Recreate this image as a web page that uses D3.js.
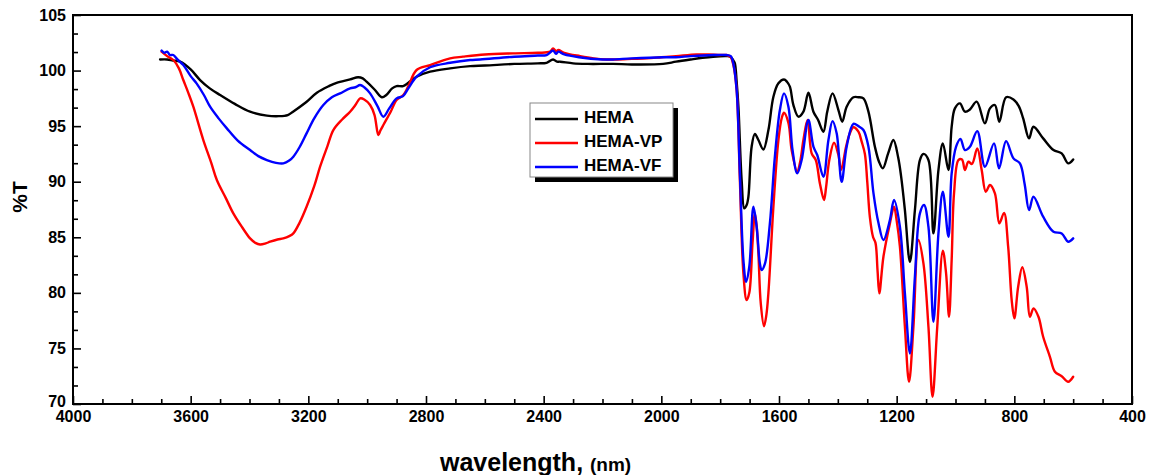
<!DOCTYPE html>
<html>
<head>
<meta charset="utf-8">
<script src="https://cdn.jsdelivr.net/npm/d3@7/dist/d3.min.js"></script>
<style>
  html, body { margin: 0; padding: 0; background: #fff; }
  svg { display: block; }
  text { font-family: "Liberation Sans", Arial, Helvetica, sans-serif; font-weight: bold; fill: #000; }
</style>
</head>
<body>
<svg id="chart" width="1149" height="475"></svg>
<script>
// FTIR spectra: [wavenumber, %T]
const hema = [
  [3704,101.0],[3680,101.0],[3660,100.9],[3636,100.8],[3600,100.1],[3568,99.15],[3535,98.4],
  [3500,97.8],[3450,97.0],[3398,96.3],[3341,95.95],[3300,95.9],[3270,96.0],[3252,96.3],
  [3210,97.1],[3171,98.0],[3130,98.6],[3104,98.9],[3058,99.2],[3031,99.4],[3015,99.3],
  [3002,99.0],[2975,98.3],[2950,97.6],[2935,97.8],[2915,98.4],[2900,98.6],[2878,98.6],
  [2860,98.9],[2832,99.45],[2786,99.9],[2718,100.2],[2650,100.4],[2600,100.45],[2500,100.6],
  [2420,100.65],[2390,100.7],[2368,101.0],[2355,100.8],[2344,100.8],[2300,100.65],[2250,100.6],
  [2164,100.6],[2100,100.55],[1994,100.6],[1950,100.8],[1900,101.0],[1860,101.15],[1824,101.25],
  [1778,101.3],[1765,101.25],[1755,100.9],[1750,100.65],[1744,99.0],[1738,96.75],[1727,90.15],
  [1718,87.6],[1710,87.9],[1704,88.65],[1693,93.15],[1682,94.3],[1670,93.75],[1653,92.9],
  [1636,94.65],[1619,97.65],[1602,98.85],[1583,99.2],[1573,99.0],[1563,98.55],[1551,96.9],
  [1534,95.85],[1517,96.3],[1500,98.0],[1483,96.3],[1467,95.55],[1449,94.5],[1436,96.3],
  [1418,97.95],[1398,96.45],[1385,95.4],[1370,96.75],[1347,97.6],[1330,97.6],[1313,97.5],
  [1296,96.3],[1274,93.15],[1260,91.8],[1247,91.2],[1229,92.55],[1211,93.75],[1195,92.2],
  [1185,90.5],[1172,87.45],[1155,82.8],[1138,87.45],[1121,91.95],[1109,92.5],[1092,91.95],
  [1075,85.35],[1058,91.05],[1043,93.45],[1024,91.05],[1013,94.95],[1002,96.6],[985,97.05],
  [968,96.3],[951,96.5],[928,97.2],[900,95.25],[883,96.6],[866,96.9],[851,95.4],[828,97.6],
  [803,97.4],[785,96.8],[770,95.7],[750,93.9],[735,94.95],[702,93.9],[667,92.85],[639,92.55],
  [617,91.65],[600,92.0]
];

const hemaVP = [
  [3699,101.7],[3680,101.3],[3659,100.95],[3640,100.2],[3625,99.15],[3608,98.0],[3591,96.75],
  [3557,93.75],[3530,91.7],[3511,90.15],[3480,88.5],[3455,87.15],[3425,85.9],[3398,84.9],
  [3380,84.5],[3364,84.35],[3345,84.45],[3330,84.6],[3305,84.8],[3285,84.9],[3265,85.1],
  [3251,85.35],[3230,86.3],[3206,87.75],[3180,89.6],[3160,91.35],[3135,93.2],[3115,94.65],
  [3085,95.6],[3058,96.3],[3040,96.9],[3024,97.5],[3010,97.4],[2990,96.9],[2975,96.0],
  [2962,94.2],[2955,94.6],[2945,95.1],[2920,96.3],[2900,97.35],[2877,97.8],[2860,98.6],
  [2832,100.05],[2786,100.5],[2718,101.1],[2674,101.25],[2600,101.45],[2504,101.55],[2420,101.6],
  [2378,101.7],[2368,102.0],[2358,101.75],[2350,101.85],[2330,101.6],[2276,101.3],[2230,101.1],
  [2186,101.0],[2150,101.0],[2100,101.05],[2050,101.1],[2000,101.2],[1950,101.3],[1880,101.45],
  [1840,101.45],[1800,101.4],[1778,101.4],[1764,101.2],[1755,100.5],[1744,98.25],[1733,90.15],
  [1721,81.75],[1710,79.35],[1701,80.0],[1690,84.5],[1682,87.15],[1676,86.0],[1670,83.55],
  [1662,79.05],[1651,77.0],[1643,78.0],[1636,80.0],[1619,87.75],[1602,93.75],[1590,95.8],
  [1583,96.2],[1568,95.3],[1557,92.85],[1538,90.9],[1528,91.8],[1517,93.75],[1503,95.55],
  [1489,92.55],[1475,91.95],[1461,89.85],[1447,88.35],[1440,89.5],[1429,91.95],[1413,93.5],
  [1398,92.4],[1389,91.05],[1372,93.15],[1360,94.3],[1347,94.9],[1330,94.5],[1319,93.6],
  [1308,92.5],[1300,90.0],[1291,86.8],[1280,85.0],[1272,84.5],[1265,82.0],[1259,79.95],
  [1245,83.25],[1223,86.25],[1209,87.75],[1200,86.5],[1189,84.15],[1172,76.95],[1158,72.0],
  [1143,76.95],[1126,84.75],[1109,82.65],[1092,76.95],[1078,70.65],[1062,76.95],[1043,83.8],
  [1032,81.75],[1022,77.85],[1013,83.0],[1005,88.95],[990,91.95],[978,92.0],[968,91.05],
  [956,91.8],[944,91.6],[926,93.0],[911,91.05],[897,89.1],[883,89.7],[866,88.95],[851,86.25],
  [835,87.2],[821,84.15],[809,79.35],[800,77.7],[787,80.55],[773,82.3],[758,80.55],[747,77.85],
  [735,78.6],[718,77.85],[702,76.05],[679,74.25],[662,72.9],[639,72.5],[617,72.0],[600,72.45]
];

const hemaVF = [
  [3699,101.8],[3690,101.6],[3680,101.7],[3670,101.4],[3659,101.4],[3645,101.0],[3625,100.5],
  [3600,99.5],[3580,98.85],[3555,97.8],[3534,96.75],[3505,95.7],[3477,94.8],[3440,93.7],
  [3398,92.85],[3370,92.3],[3341,91.95],[3310,91.7],[3285,91.65],[3265,91.9],[3251,92.25],
  [3230,93.1],[3206,94.35],[3180,95.7],[3149,96.9],[3120,97.6],[3092,97.95],[3058,98.4],
  [3040,98.5],[3024,98.7],[3010,98.5],[2990,97.95],[2965,96.8],[2945,95.85],[2925,96.6],
  [2900,97.5],[2878,97.7],[2860,98.4],[2832,99.45],[2786,100.3],[2718,100.7],[2650,100.95],
  [2616,101.0],[2500,101.25],[2420,101.35],[2390,101.4],[2368,101.8],[2358,101.5],[2350,101.7],
  [2330,101.45],[2280,101.2],[2200,101.0],[2164,101.0],[2100,101.1],[1994,101.2],[1950,101.2],
  [1900,101.3],[1824,101.4],[1780,101.4],[1764,101.3],[1755,100.6],[1744,98.25],[1733,90.75],
  [1721,82.95],[1712,81.0],[1701,82.35],[1687,87.75],[1676,85.95],[1665,82.65],[1659,82.05],
  [1648,82.6],[1631,86.25],[1614,92.25],[1597,96.45],[1583,97.95],[1568,96.75],[1554,92.85],
  [1538,90.75],[1523,91.95],[1500,95.55],[1483,93.15],[1470,92.4],[1449,90.45],[1432,93.75],
  [1418,95.45],[1404,94.35],[1387,90.0],[1370,93.15],[1347,95.2],[1330,95.0],[1313,94.65],
  [1296,93.15],[1279,89.0],[1262,86.3],[1245,84.75],[1223,86.55],[1209,88.35],[1189,85.95],
  [1172,79.95],[1155,74.55],[1138,81.45],[1121,87.15],[1107,87.9],[1092,85.95],[1075,77.4],
  [1058,85.35],[1043,89.1],[1024,85.05],[1013,90.75],[998,93.15],[983,93.85],[968,92.85],
  [951,93.15],[926,94.55],[900,91.35],[869,93.45],[852,91.2],[828,93.65],[803,92.1],[781,91.65],
  [765,89.8],[750,87.45],[735,88.65],[702,86.85],[667,85.5],[639,85.35],[617,84.6],[600,84.9]
];

const seriesNames = ["HEMA", "HEMA-VP", "HEMA-VF"];
const seriesColors = ["#000000", "#ff0000", "#0000ff"];
const seriesData = [hema, hemaVP, hemaVF];

const xTickValues = [4000, 3600, 3200, 2800, 2400, 2000, 1600, 1200, 800, 400];
const yTickValues = [70, 75, 80, 85, 90, 95, 100, 105];

const svg = d3.select("#chart");
const plot = { left: 73, right: 1132, top: 15, bottom: 404 };

const x = d3.scaleLinear().domain([4000, 400]).range([plot.left, plot.right]);
const y = d3.scaleLinear().domain([70, 105]).range([plot.bottom, plot.top]);

// minor ticks: every 100 cm-1 on x, thirds of a major step on y
const xMinor = d3.range(4000, 399, -100).filter(v => !xTickValues.includes(v));
const yMinor = d3.range(0, 22).map(i => 70 + i * 5 / 3).filter(v => Math.abs(v / 5 - Math.round(v / 5)) > 1e-6);

svg.append("g").attr("transform", `translate(0,${plot.bottom})`)
  .call(d3.axisBottom(x).tickValues(xTickValues).tickSize(-8).tickPadding(7).tickFormat(d3.format("d")));
svg.append("g").attr("transform", `translate(0,${plot.bottom})`)
  .call(d3.axisBottom(x).tickValues(xMinor).tickSize(-5).tickFormat(""));
const yAxisG = svg.append("g").attr("transform", `translate(${plot.left},0)`)
  .call(d3.axisLeft(y).tickValues(yTickValues).tickSize(-8).tickPadding(7).tickFormat(d3.format("d")));
svg.append("g").attr("transform", `translate(${plot.left},0)`)
  .call(d3.axisLeft(y).tickValues(yMinor).tickSize(-5).tickFormat(""));

svg.selectAll(".domain").remove();
svg.selectAll(".tick line").attr("stroke", "#000").attr("stroke-width", 1.6);
svg.selectAll(".tick text").style("font-size", "16px").style("font-weight", "bold")
  .style("font-family", "'Liberation Sans', Arial, sans-serif").attr("fill", "#000");
// lift the bottom y label a little so it clears the first x label
yAxisG.selectAll(".tick text").filter(d => d === 70).attr("dy", "0.18em");

// spectra
const line = d3.line()
  .x(d => x(d[0]))
  .y(d => y(d[1]))
  .curve(d3.curveCatmullRom.alpha(0.5));

svg.append("g").selectAll("path")
  .data(seriesData)
  .join("path")
  .attr("d", line)
  .attr("fill", "none")
  .attr("stroke", (d, i) => seriesColors[i])
  .attr("stroke-width", 2.4)
  .attr("stroke-linejoin", "round")
  .attr("stroke-linecap", "round");

// frame
svg.append("rect")
  .attr("x", plot.left).attr("y", plot.top)
  .attr("width", plot.right - plot.left).attr("height", plot.bottom - plot.top)
  .attr("fill", "none").attr("stroke", "#000").attr("stroke-width", 2);

// axis titles
svg.append("text")
  .attr("transform", "translate(21,197) rotate(-90)")
  .attr("text-anchor", "middle")
  .attr("dominant-baseline", "middle")
  .style("font-size", "21px")
  .text("%T");

const xTitle = svg.append("text")
  .attr("x", 440).attr("y", 471)
  .style("font-size", "25px");
xTitle.append("tspan").text("wavelength, ");
xTitle.append("tspan").style("font-size", "19px").text("(nm)");

// legend with drop shadow
const legend = svg.append("g").attr("transform", "translate(530,103)");
legend.append("rect").attr("x", 5).attr("y", 5).attr("width", 143).attr("height", 74).attr("fill", "#000");
legend.append("rect").attr("x", 0).attr("y", 0).attr("width", 143).attr("height", 74)
  .attr("fill", "#fff").attr("stroke", "#888").attr("stroke-width", 1);
const rows = legend.selectAll("g.row").data(seriesNames).join("g")
  .attr("class", "row")
  .attr("transform", (d, i) => `translate(0,${16 + i * 24})`);
rows.append("line").attr("x1", 5).attr("x2", 48).attr("y1", 0).attr("y2", 0)
  .attr("stroke", (d, i) => seriesColors[i]).attr("stroke-width", 2.5);
rows.append("text").attr("x", 54).attr("y", 0).attr("dominant-baseline", "middle")
  .style("font-size", "17px").text(d => d);
</script>
</body>
</html>
